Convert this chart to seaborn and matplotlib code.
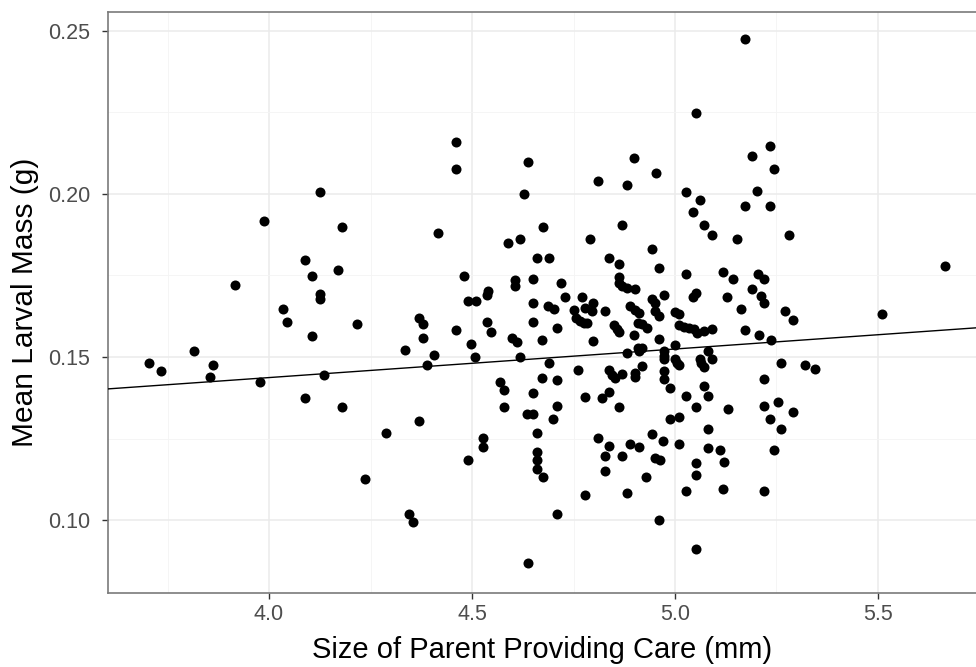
import matplotlib
matplotlib.use("Agg")
import matplotlib.pyplot as plt
import seaborn as sns
import pandas as pd
from matplotlib.ticker import MultipleLocator, FixedLocator

parent_size = [
    4.126, 4.461, 4.461, 4.638, 4.628, 5.172, 5.052, 4.899, 4.810, 4.882,
    4.953, 5.190, 5.027, 5.062, 5.202, 5.172, 5.234, 5.244, 5.234, 3.988,
    4.089, 4.106, 3.916, 4.126, 4.126, 4.034, 4.044, 4.106, 3.815, 3.704,
    3.734, 3.862, 3.855, 3.978, 4.135, 4.089, 4.180, 4.416, 4.589, 4.618,
    4.675, 4.170, 4.660, 4.480, 4.606, 4.606, 4.650, 4.539, 4.537, 4.490,
    4.510, 4.650, 4.217, 4.369, 4.379, 4.537, 4.650, 4.461, 4.547, 4.379,
    4.598, 4.611, 4.672, 4.498, 4.335, 4.406, 4.507, 4.618, 4.389, 4.569,
    4.579, 4.650, 4.672, 4.869, 5.044, 4.791, 5.071, 5.091, 5.153, 4.943,
    4.690, 4.837, 4.862, 4.961, 5.027, 5.118, 5.143, 5.204, 4.719, 4.862,
    4.862, 4.869, 4.882, 4.901, 4.729, 4.771, 5.052, 5.044, 5.128, 5.190,
    4.973, 4.943, 4.951, 4.687, 4.702, 4.798, 4.778, 4.796, 4.751, 4.828,
    4.889, 4.901, 4.911, 4.951, 4.961, 5.000, 5.010, 5.163, 4.756, 4.766,
    4.776, 4.783, 4.850, 4.857, 4.862, 4.909, 4.919, 4.931, 5.010, 5.022,
    5.034, 5.047, 5.054, 5.071, 5.091, 4.709, 5.172, 5.207, 4.798, 4.899,
    4.961, 4.909, 4.919, 4.911, 5.000, 4.882, 4.973, 4.973, 5.081, 4.690,
    4.973, 5.000, 5.005, 5.010, 5.062, 5.064, 5.071, 5.091, 4.761, 4.837,
    4.845, 4.852, 4.869, 4.901, 4.919, 4.901, 4.973, 4.973, 4.709, 4.988,
    5.071, 4.778, 4.820, 4.837, 5.027, 5.081, 5.281, 5.219, 5.212, 5.219,
    5.271, 5.291, 5.665, 5.510, 5.236, 5.261, 5.320, 5.345, 5.219, 5.254,
    4.180, 4.288, 4.369, 4.236, 4.345, 4.355, 4.490, 4.527, 4.527, 4.579,
    4.635, 4.650, 4.660, 4.660, 4.660, 4.660, 4.675, 4.638, 4.709, 4.862,
    4.700, 4.810, 4.837, 4.828, 4.869, 4.889, 4.911, 4.943, 4.970, 4.951,
    4.963, 4.828, 4.929, 4.778, 4.882, 4.709, 4.961, 4.988, 5.010, 5.010,
    5.052, 5.081, 5.081, 5.131, 5.111, 5.121, 5.052, 5.052, 5.027, 5.118,
    5.052, 5.219, 5.291, 5.234, 5.261, 5.244, 5.219,
]

larval_mass = [
    0.2005, 0.2159, 0.2076, 0.2097, 0.1999, 0.2474, 0.2247, 0.2110, 0.2039, 0.2027,
    0.2064, 0.2116, 0.2005, 0.1981, 0.2008, 0.1963, 0.2146, 0.2076, 0.1963, 0.1917,
    0.1797, 0.1748, 0.1721, 0.1693, 0.1678, 0.1647, 0.1607, 0.1564, 0.1518, 0.1482,
    0.1457, 0.1475, 0.1439, 0.1423, 0.1445, 0.1374, 0.1898, 0.1880, 0.1849, 0.1861,
    0.1898, 0.1766, 0.1803, 0.1748, 0.1736, 0.1717, 0.1739, 0.1702, 0.1690, 0.1672,
    0.1672, 0.1665, 0.1601, 0.1619, 0.1601, 0.1607, 0.1607, 0.1583, 0.1577, 0.1558,
    0.1558, 0.1546, 0.1552, 0.1540, 0.1521, 0.1506, 0.1500, 0.1500, 0.1475, 0.1423,
    0.1399, 0.1390, 0.1436, 0.1904, 0.1944, 0.1861, 0.1904, 0.1874, 0.1861, 0.1831,
    0.1803, 0.1803, 0.1785, 0.1773, 0.1754, 0.1760, 0.1739, 0.1754, 0.1727, 0.1745,
    0.1727, 0.1717, 0.1711, 0.1708, 0.1684, 0.1684, 0.1696, 0.1684, 0.1684, 0.1708,
    0.1690, 0.1678, 0.1665, 0.1656, 0.1647, 0.1665, 0.1650, 0.1641, 0.1644, 0.1641,
    0.1656, 0.1644, 0.1635, 0.1641, 0.1626, 0.1638, 0.1632, 0.1647, 0.1619, 0.1610,
    0.1604, 0.1604, 0.1598, 0.1586, 0.1577, 0.1604, 0.1601, 0.1589, 0.1598, 0.1592,
    0.1589, 0.1586, 0.1574, 0.1580, 0.1586, 0.1589, 0.1583, 0.1567, 0.1549, 0.1567,
    0.1555, 0.1528, 0.1528, 0.1518, 0.1537, 0.1512, 0.1518, 0.1503, 0.1518, 0.1482,
    0.1494, 0.1494, 0.1482, 0.1475, 0.1494, 0.1482, 0.1469, 0.1494, 0.1460, 0.1460,
    0.1445, 0.1436, 0.1448, 0.1451, 0.1472, 0.1439, 0.1457, 0.1433, 0.1430, 0.1405,
    0.1411, 0.1377, 0.1374, 0.1393, 0.1381, 0.1381, 0.1874, 0.1739, 0.1687, 0.1665,
    0.1641, 0.1613, 0.1779, 0.1632, 0.1552, 0.1482, 0.1475, 0.1463, 0.1433, 0.1362,
    0.1347, 0.1267, 0.1304, 0.1126, 0.1019, 0.0995, 0.1185, 0.1252, 0.1224, 0.1347,
    0.1325, 0.1325, 0.1267, 0.1209, 0.1185, 0.1157, 0.1132, 0.0869, 0.1350, 0.1347,
    0.1310, 0.1252, 0.1227, 0.1197, 0.1197, 0.1234, 0.1224, 0.1264, 0.1243, 0.1191,
    0.1185, 0.1151, 0.1132, 0.1077, 0.1083, 0.1019, 0.1001, 0.1310, 0.1316, 0.1234,
    0.1347, 0.1279, 0.1221, 0.1341, 0.1215, 0.1178, 0.1175, 0.1139, 0.1090, 0.1096,
    0.0912, 0.1350, 0.1332, 0.1310, 0.1279, 0.1215, 0.1090,
]

# fitted model line (intercept, slope)
fit_intercept = 0.1087
fit_slope = 0.00875

x_ticks = [4.0, 4.5, 5.0, 5.5]
x_tick_labels = ["4.0", "4.5", "5.0", "5.5"]
y_ticks = [0.10, 0.15, 0.20, 0.25]
y_tick_labels = ["0.10", "0.15", "0.20", "0.25"]
x_title = "Size of Parent Providing Care (mm)"
y_title = "Mean Larval Mass (g)"

df = pd.DataFrame({"size": parent_size, "mass": larval_mass})

sns.set_theme(style="white")
plt.rcParams["font.family"] = ["Liberation Sans", "DejaVu Sans"]

W, H = 976, 667
fig = plt.figure(figsize=(W / 100, H / 100), dpi=100)
left, right, top, bottom = 108, 976, 12, 593
ax = fig.add_axes([left / W, 1 - bottom / H, (right - left) / W, (bottom - top) / H])

xlim = (3.6034, 5.7414)
ylim = (0.0777, 0.2557)
ax.set_xlim(xlim)
ax.set_ylim(ylim)

# grid (theme_bw style)
ax.set_axisbelow(True)
ax.xaxis.set_minor_locator(MultipleLocator(0.25))
ax.yaxis.set_minor_locator(MultipleLocator(0.025))
ax.grid(which="major", color="#EBEBEB", linewidth=1.1)
ax.grid(which="minor", color="#F4F4F4", linewidth=0.6)

sns.scatterplot(data=df, x="size", y="mass", ax=ax, color="black", s=52,
                linewidth=0, legend=False, zorder=3)
fit_df = pd.DataFrame({"size": list(xlim)})
fit_df["mass"] = fit_intercept + fit_slope * fit_df["size"]
sns.lineplot(data=fit_df, x="size", y="mass", ax=ax, color="black",
             linewidth=1.0, zorder=4)

ax.set_xlim(xlim)
ax.set_ylim(ylim)
ax.xaxis.set_major_locator(FixedLocator(x_ticks))
ax.yaxis.set_major_locator(FixedLocator(y_ticks))
ax.set_xticklabels(x_tick_labels)
ax.set_yticklabels(y_tick_labels)

ax.tick_params(which="major", direction="out", length=4, width=1, color="#333333",
               labelsize=15.5, labelcolor="#4D4D4D", pad=4,
               bottom=True, left=True)
ax.tick_params(axis="y", which="major", pad=9)
ax.tick_params(which="minor", length=0)

for side in ["left", "bottom", "top"]:
    ax.spines[side].set_visible(True)
    ax.spines[side].set_color("#7A7A7A")
    ax.spines[side].set_linewidth(1.2)
ax.spines["right"].set_visible(False)

ax.set_xlabel(x_title, fontsize=21, color="black", labelpad=8)
ax.set_ylabel(y_title, fontsize=21.5, color="black", labelpad=6)

fig.savefig("out.png", dpi=100)
